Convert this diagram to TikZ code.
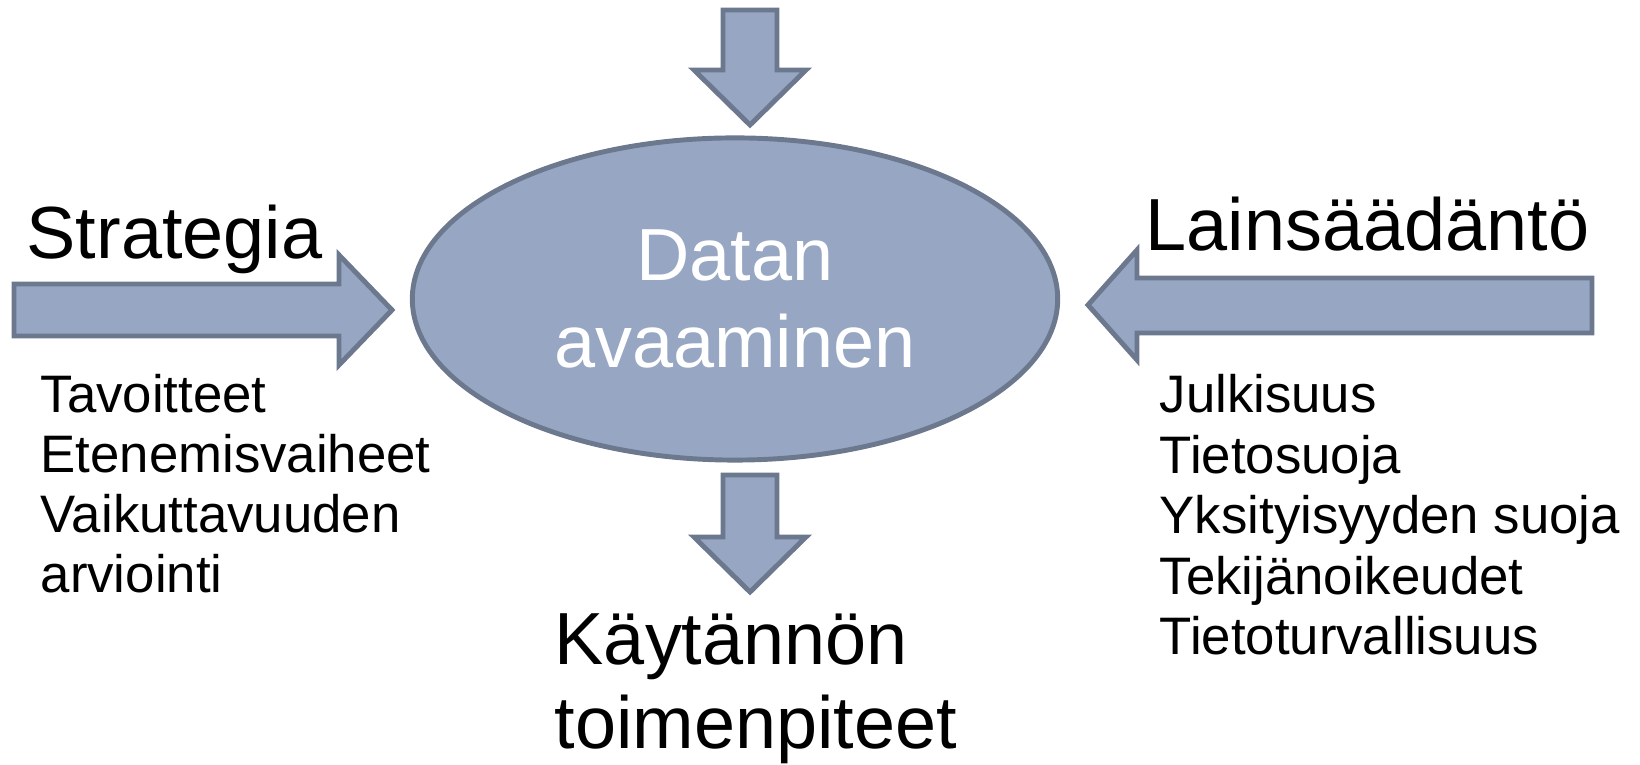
\documentclass[tikz,border=0pt]{standalone}
\usepackage{fontspec}
\setmainfont{Liberation Sans}
\usetikzlibrary{shapes.geometric}
\definecolor{arrowfill}{RGB}{151,167,195}
\definecolor{arrowline}{RGB}{108,120,142}
\tikzset{
    blockarrow/.style={draw=arrowline,fill=arrowfill,line width=1.4pt,line join=miter},
    bigtext/.style={font=\fontsize{21}{24}\selectfont,anchor=base west,inner sep=0pt},
    listtext/.style={font=\fontsize{15}{17}\selectfont,anchor=base west,inner sep=0pt}
}
\begin{document}
\begin{tikzpicture}[x=0.01cm,y=-0.01cm]
        \useasboundingbox (0,0) rectangle (1640,765);
        % block arrows
        \draw[blockarrow] (723,10) -- (777,10) -- (777,70) -- (806,70) -- (750,125) -- (694,70) -- (723,70) -- cycle;
        \draw[blockarrow] (723,475) -- (777,475) -- (777,537) -- (806,537) -- (750,592) -- (694,537) -- (723,537) -- cycle;
        \draw[blockarrow] (14,284) -- (339,284) -- (339,255) -- (392,310) -- (339,365) -- (339,336) -- (14,336) -- cycle;
        \draw[blockarrow] (1592,278) -- (1137,278) -- (1137,250) -- (1088,305) -- (1137,360) -- (1137,333) -- (1592,333) -- cycle;
        % centre
        \node[ellipse,draw=arrowline,fill=arrowfill,line width=1.4pt,minimum width=6.45cm,minimum height=3.22cm,
            inner sep=0pt,text=white,align=center,font=\fontsize{21}{25}\selectfont] (datan) at (735,299) {Datan\\avaaminen};
        % headings
        \node[bigtext] (strategia) at (26,259) {Strategia};
        \node[bigtext] (laki) at (1145,251) {Lainsäädäntö};
        \node[bigtext,align=left,anchor=north west] (kaytanto) at (554,613) {Käytännön\\toimenpiteet};
        % lists
        \foreach \t [count=\i from 0] in {Tavoitteet,Etenemisvaiheet,Vaikuttavuuden,arviointi}{
            \node[listtext] (vas\i) at (40,413+60*\i) {\t};
        }
        \foreach \t [count=\i from 0] in {Julkisuus,Tietosuoja,Yksityisyyden suoja,Tekijänoikeudet,Tietoturvallisuus}{
            \node[listtext] (oik\i) at (1159,413+60.5*\i) {\t};
        }
    \end{tikzpicture}
\end{document}
